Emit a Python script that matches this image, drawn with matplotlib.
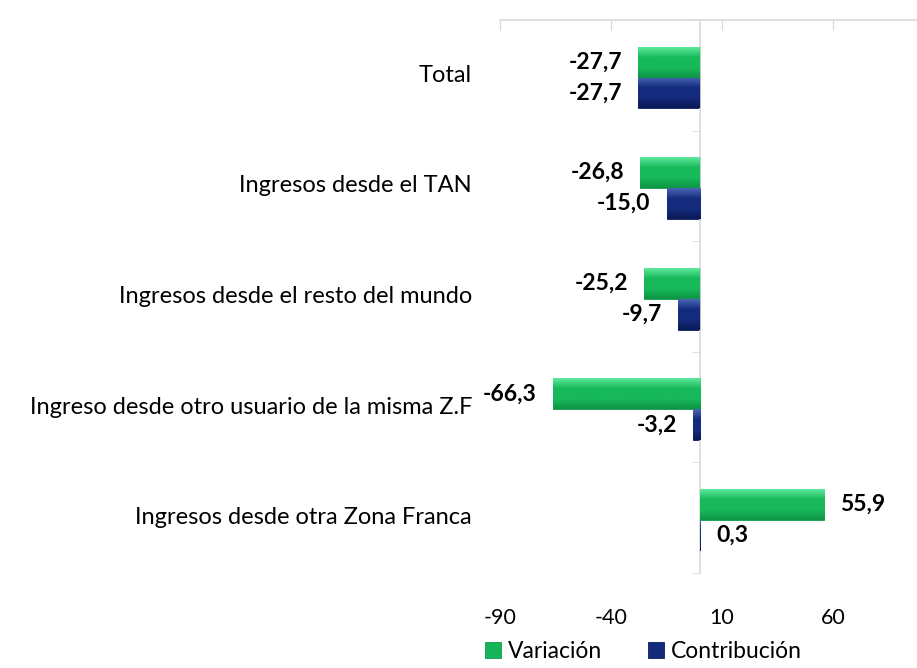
import numpy as np
import matplotlib
matplotlib.use("Agg")
import matplotlib.pyplot as plt
from matplotlib.colors import LinearSegmentedColormap
from matplotlib.transforms import blended_transform_factory

plt.rcParams["font.family"] = ["Lato", "DejaVu Sans"]
plt.rcParams["axes.unicode_minus"] = False

categories = [
    "Total",
    "Ingresos desde el TAN",
    "Ingresos desde el resto del mundo",
    "Ingreso desde otro usuario de la misma Z.F",
    "Ingresos desde otra Zona Franca",
]
variacion = [-27.7, -26.8, -25.2, -66.3, 55.9]
contribucion = [-27.7, -15.0, -9.7, -3.2, 0.3]
xticks = [-90, -40, 10, 60, 110]
xticklabels = ["-90", "-40", "10", "60", ""]

green = "#16b458"
blue = "#13297a"
grey = "#d9d9d9"


def gradient_fill(ax, bars, top, mid, bottom):
    # vertical shading inside each bar, clipped to the bar shape
    cmap = LinearSegmentedColormap.from_list("g", [top, mid, mid, bottom])
    grad = np.linspace(0, 1, 64).reshape(-1, 1)
    for b in bars:
        x0, y0 = b.get_x(), b.get_y()
        w, h = b.get_width(), b.get_height()
        im = ax.imshow(grad, cmap=cmap, aspect="auto", origin="upper",
                       extent=[x0, x0 + w, y0 + h, y0], zorder=3)
        im.set_clip_path(b)


fig = plt.figure(figsize=(9.17, 6.68), dpi=100)
ax = fig.add_axes([500 / 917, 1 - 573 / 668, 444 / 917, 553 / 668])

y = np.arange(len(categories))
h = 0.28
b1 = ax.barh(y - h / 2 + 0.02, variacion, height=h, color=green,
             edgecolor="#0f9a49", linewidth=0.6, label="Variación", zorder=2)
b2 = ax.barh(y + h / 2 + 0.02, contribucion, height=h, color=blue,
             edgecolor="#0b1c58", linewidth=0.6, label="Contribución", zorder=2)
gradient_fill(ax, b1, "#5ee89c", "#17b95a", "#0e9445")
gradient_fill(ax, b2, "#4a66b4", "#142b7e", "#0a1a55")

for bars, vals in ((b1, variacion), (b2, contribucion)):
    for b, v in zip(bars, vals):
        off = 11.5 if v >= 0 else -11.5
        ax.annotate(f"{v:.1f}".replace(".", ","),
                    (v, b.get_y() + b.get_height() / 2),
                    xytext=(off, 0), textcoords="offset points",
                    ha="left" if v >= 0 else "right", va="center",
                    fontsize=16.5, fontweight="bold", color="black", zorder=5)

ax.set_xlim(-90, 110)
ax.set_ylim(len(categories) - 0.5, -0.5)

ax.set_xticks(xticks)
ax.set_xticklabels(xticklabels)
ax.tick_params(axis="x", top=True, bottom=False, labeltop=False,
               labelbottom=True, direction="in", length=7, color=grey,
               pad=25, labelsize=15.5)

ax.set_yticks([])
ax.set_yticks(np.arange(len(categories) + 1) - 0.5, minor=True)
ax.tick_params(axis="y", which="minor", left=True, length=6, color=grey,
               direction="out")

for s in ("bottom", "right"):
    ax.spines[s].set_visible(False)
ax.spines["top"].set_color(grey)
ax.spines["left"].set_color(grey)
ax.spines["left"].set_position(("data", 0))
ax.spines["top"].set_linewidth(1.2)
ax.spines["left"].set_linewidth(1.2)

trans = blended_transform_factory(ax.transAxes, ax.transData)
for yi, lab in zip(y, categories):
    ax.text(-0.063, yi, lab, transform=trans, ha="right", va="center",
            fontsize=17)

fig.legend(handles=[b1, b2], loc="lower center",
           bbox_to_anchor=(643 / 917, -0.022), ncol=2, frameon=False,
           fontsize=16.5, handlelength=0.7, handleheight=0.7,
           handletextpad=0.3, columnspacing=2.0)

fig.savefig("out.png", dpi=100)
